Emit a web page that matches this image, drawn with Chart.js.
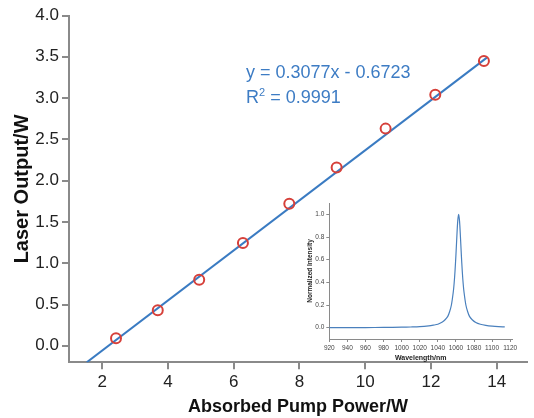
<!DOCTYPE html>
<html>
<head>
<meta charset="utf-8">
<script src="https://cdn.jsdelivr.net/npm/chart.js@4.4.1/dist/chart.umd.min.js"></script>
<style>
  html, body { margin: 0; padding: 0; background: #fff; }
  #wrap { position: relative; width: 534px; height: 418px; overflow: hidden; }
  #main { position: absolute; left: 0; top: 0; }
  #inset { position: absolute; left: 290px; top: 195px; }
  #eq { position: absolute; left: 246px; top: 60px; color: #3d7cc4;
        font: 18px 'Liberation Sans', Arial, sans-serif; line-height: 25px; white-space: nowrap; }
  #eq sup { font-size: 11px; vertical-align: 7px; line-height: 0; }
</style>
</head>
<body>
<div id="wrap">
  <canvas id="main" width="534" height="418"></canvas>
  <canvas id="inset" width="240" height="175"></canvas>
  <div id="eq">y = 0.3077x - 0.6723<br>R<sup>2</sup> = 0.9991</div>
</div>
<script>
// slope efficiency data
const pumpPower   = [2.42, 3.69, 4.95, 6.28, 7.69, 9.13, 10.62, 12.13, 13.61];
const laserOutput = [0.09, 0.43, 0.80, 1.245, 1.72, 2.16, 2.63, 3.04, 3.45];
const fitX = [1.53, 13.7];
const fitY = [-0.2, 3.49];
const xTicks = [2, 4, 6, 8, 10, 12, 14];
const yTicks = [0, 0.5, 1, 1.5, 2, 2.5, 3, 3.5, 4];

// inset spectrum
const wavelength = [920, 940, 960, 980, 1000, 1010, 1020, 1030, 1035, 1040, 1045, 1048, 1051, 1053, 1055, 1057, 1058, 1059, 1060, 1061, 1062, 1063,
                    1064, 1065, 1066, 1067, 1068, 1069, 1071, 1073, 1075, 1078, 1082, 1087, 1093, 1100, 1107, 1114];
const intensity  = [0.0, 0.001, 0.001, 0.002, 0.004, 0.006, 0.009, 0.016, 0.022, 0.03, 0.05, 0.07, 0.1, 0.14, 0.2, 0.31, 0.39, 0.5, 0.64, 0.8, 0.94, 1.0,
                    0.94, 0.8, 0.64, 0.5, 0.39, 0.31, 0.2, 0.14, 0.1, 0.07, 0.045, 0.03, 0.02, 0.013, 0.009, 0.007];
const insetXTicks = [920, 940, 960, 980, 1000, 1020, 1040, 1060, 1080, 1100, 1120];
const insetYTicks = [0, 0.2, 0.4, 0.6, 0.8, 1.0];

const FONT = "'Liberation Sans', Arial, sans-serif";
const AXIS = '#8a8a8a';
const BLUE = '#3a7bc2';

function fixTicks(list) {
  return s => { s.ticks = list.map(v => ({ value: v })); };
}

new Chart(document.getElementById('main'), {
  type: 'scatter',
  data: {
    datasets: [{
      type: 'line',
      data: fitX.map((x, i) => ({ x, y: fitY[i] })),
      borderColor: BLUE,
      borderWidth: 2,
      pointRadius: 0,
      fill: false,
      order: 2
    }, {
      data: pumpPower.map((x, i) => ({ x, y: laserOutput[i] })),
      borderColor: '#d6403a',
      backgroundColor: 'rgba(0,0,0,0)',
      borderWidth: 2,
      pointRadius: 5,
      order: 1
    }]
  },
  options: {
    responsive: false,
    animation: false,
    layout: { padding: { top: 15.5, right: 0, left: 0, bottom: 0 } },
    plugins: { legend: { display: false }, tooltip: { enabled: false } },
    scales: {
      x: {
        type: 'linear', min: 0.99, max: 14.92,
        afterBuildTicks: fixTicks(xTicks),
        afterFit: s => { s.height = 55.7; },
        border: { display: true, color: AXIS, width: 2 },
        grid: { drawOnChartArea: false, drawTicks: true, tickLength: 7, color: AXIS, lineWidth: 2 },
        ticks: { color: '#222', font: { family: FONT, size: 17 }, padding: 3, maxRotation: 0 },
        title: { display: true, text: 'Absorbed Pump Power/W', color: '#111',
                 font: { family: FONT, size: 18, weight: 'bold' }, padding: { top: 0, bottom: 0 } }
      },
      y: {
        type: 'linear', min: -0.2, max: 4.0,
        afterBuildTicks: fixTicks(yTicks),
        afterFit: s => { s.width = 69; },
        border: { display: true, color: AXIS, width: 2 },
        grid: { drawOnChartArea: false, drawTicks: true, tickLength: 7, color: AXIS, lineWidth: 2 },
        ticks: { color: '#222', font: { family: FONT, size: 17 }, padding: 3, callback: v => v.toFixed(1) },
        title: { display: true, text: 'Laser Output/W', color: '#111',
                 font: { family: FONT, size: 20, weight: 'bold' }, padding: { top: 10, bottom: 0 } }
      }
    }
  }
});

new Chart(document.getElementById('inset'), {
  type: 'line',
  data: {
    datasets: [{
      data: wavelength.map((x, i) => ({ x, y: intensity[i] })),
      borderColor: '#4a80bd',
      borderWidth: 1.2,
      pointRadius: 0,
      tension: 0.3,
      fill: false
    }]
  },
  options: {
    responsive: false,
    animation: false,
    layout: { padding: { top: 8, right: 18, left: 0, bottom: 0 } },
    plugins: { legend: { display: false }, tooltip: { enabled: false } },
    scales: {
      x: {
        type: 'linear', min: 920, max: 1122,
        afterBuildTicks: fixTicks(insetXTicks),
        afterFit: s => { s.height = 31; },
        border: { display: true, color: AXIS, width: 1 },
        grid: { drawOnChartArea: false, drawTicks: true, tickLength: 3, color: AXIS, lineWidth: 1 },
        ticks: { color: '#444', font: { family: FONT, size: 6.5 }, padding: 2, maxRotation: 0, autoSkip: false,
                 callback: v => String(v) },
        title: { display: true, text: 'Wavelength/nm', color: '#222',
                 font: { family: FONT, size: 7, weight: 'bold' }, padding: { top: 0, bottom: 8 } }
      },
      y: {
        type: 'linear', min: -0.1, max: 1.1,
        afterBuildTicks: fixTicks(insetYTicks),
        afterFit: s => { s.width = 39.3; },
        border: { display: true, color: AXIS, width: 1 },
        grid: { drawOnChartArea: false, drawTicks: true, tickLength: 3, color: AXIS, lineWidth: 1 },
        ticks: { color: '#444', font: { family: FONT, size: 6.5 }, padding: 2, callback: v => v.toFixed(1) },
        title: { display: true, text: 'Normalized Intensity', color: '#222',
                 font: { family: FONT, size: 6.5, weight: 'bold' }, padding: { top: 16, bottom: 0 } }
      }
    }
  }
});
</script>
</body>
</html>
